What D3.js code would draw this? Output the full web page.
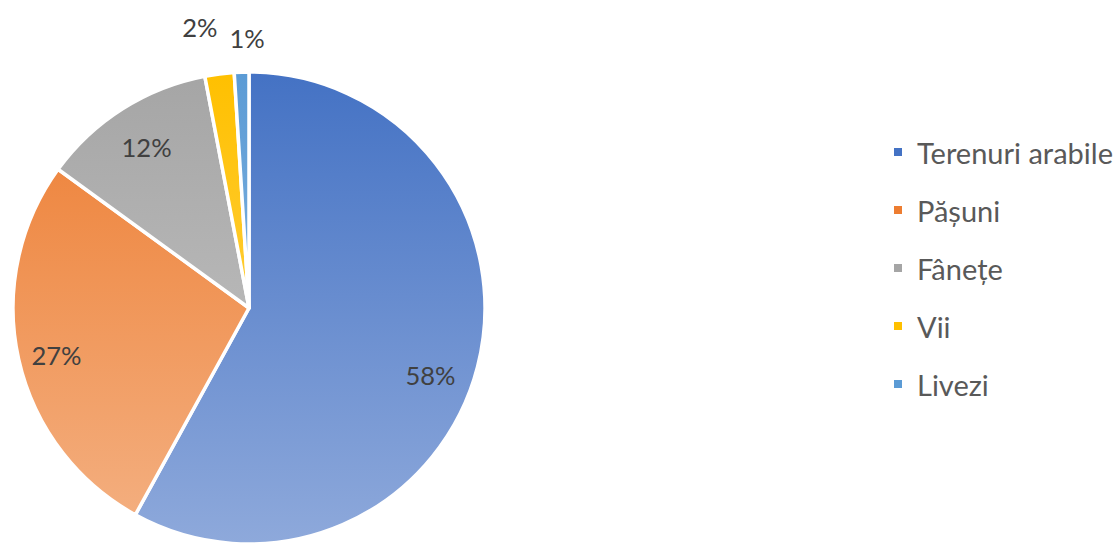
<!DOCTYPE html>
<html><head><meta charset="utf-8">
<script src="https://cdn.jsdelivr.net/npm/d3@7"></script>
<style>body{margin:0;background:#fff;}svg{display:block;}</style>
</head><body>
<svg id="c" width="1119" height="543"></svg>
<script>
const categories = ["Terenuri arabile","Pășuni","Fânețe","Vii","Livezi"];
const values = [58, 27, 12, 2, 1];
const labels = ["58%","27%","12%","2%","1%"];
const topColors = ["#4472C4","#ED7D31","#A5A5A5","#FFC000","#5B9BD5"];
const bottomColors = ["#8EA9DB","#F4B183","#C9C9C9","#FFD966","#9DC3E6"];

const W = 1119, H = 543;
const cx = 249, cy = 308, r = 236;
const svg = d3.select("#c");
const defs = svg.append("defs");
categories.forEach((c,i)=>{
  const g = defs.append("linearGradient").attr("id","g"+i)
    .attr("gradientUnits","userSpaceOnUse")
    .attr("x1",0).attr("x2",0).attr("y1",-r).attr("y2",r);
  g.append("stop").attr("offset","0%").attr("stop-color",topColors[i]);
  g.append("stop").attr("offset","100%").attr("stop-color",bottomColors[i]);
});

const pie = d3.pie().sort(null).value(d=>d)(values);
const arc = d3.arc().innerRadius(0).outerRadius(r);
const gp = svg.append("g").attr("transform",`translate(${cx},${cy})`);
gp.selectAll("path").data(pie).join("path")
  .attr("d",arc)
  .attr("fill",(d,i)=>`url(#g${i})`)
  .attr("stroke","#fff").attr("stroke-width",3.5).attr("stroke-linejoin","round");

// label radii (fraction of r) and angle tweaks (best-fit placement)
const labelRho = [0.82, 0.84, 0.81, 1.21, 1.145];
const labelAngOff = [0.103, -0.02, 0, -0.047, 0.024];
gp.selectAll("text.lab").data(pie).join("text")
  .attr("class","lab")
  .attr("x",(d,i)=>{const a=(d.startAngle+d.endAngle)/2+labelAngOff[i];return Math.sin(a)*r*labelRho[i];})
  .attr("y",(d,i)=>{const a=(d.startAngle+d.endAngle)/2+labelAngOff[i];return -Math.cos(a)*r*labelRho[i];})
  .attr("text-anchor","middle").attr("dominant-baseline","central")
  .attr("font-family","Lato, 'Open Sans', sans-serif").attr("font-size",25.5)
  .attr("fill","#404040")
  .text((d,i)=>labels[i]);

// legend
const leg = svg.append("g").attr("transform","translate(894,152)");
const rowH = 58;
const item = leg.selectAll("g").data(categories).join("g")
  .attr("transform",(d,i)=>`translate(0,${i*rowH})`);
item.append("rect").attr("x",0).attr("y",-4).attr("width",8).attr("height",8)
  .attr("fill",(d,i)=>topColors[i]);
item.append("text").attr("x",23).attr("y",0).attr("dominant-baseline","central")
  .attr("font-family","Lato, 'Open Sans', sans-serif").attr("font-size",29)
  .attr("fill","#595959").text(d=>d);
</script>
</body></html>
